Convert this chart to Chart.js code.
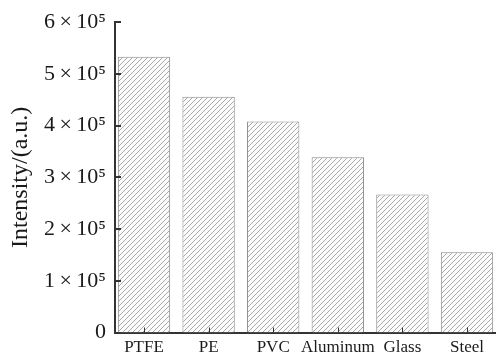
<!DOCTYPE html>
<html>
<head>
<meta charset="utf-8">
<script src="https://cdn.jsdelivr.net/npm/chart.js@4/dist/chart.umd.min.js"></script>
<style>
  html, body { margin: 0; padding: 0; background: #fff; }
  #wrap { width: 496px; height: 357px; }
</style>
</head>
<body>
<div id="wrap"><canvas id="barChart" width="496" height="357"></canvas></div>
<script>
// data
var materials = ['PTFE', 'PE', 'PVC', 'Aluminum', 'Glass', 'Steel'];
var intensity = [533000, 456000, 408000, 339000, 267000, 155000];
var yTickValues = [0, 100000, 200000, 300000, 400000, 500000, 600000];
var yTickLabels = ['0', '1\u2009\u00d7\u200910\u2075', '2\u2009\u00d7\u200910\u2075', '3\u2009\u00d7\u200910\u2075',
                   '4\u2009\u00d7\u200910\u2075', '5\u2009\u00d7\u200910\u2075', '6\u2009\u00d7\u200910\u2075'];

// hatch fill ////
function makeHatch() {
  var s = 5;
  var c = document.createElement('canvas');
  c.width = s; c.height = s;
  var g = c.getContext('2d');
  g.fillStyle = '#fcfcfc';
  g.fillRect(0, 0, s, s);
  g.strokeStyle = '#a8a8a8';
  g.lineWidth = 1;
  g.beginPath();
  g.moveTo(0, s); g.lineTo(s, 0);
  g.moveTo(-1, 1); g.lineTo(1, -1);
  g.moveTo(s - 1, s + 1); g.lineTo(s + 1, s - 1);
  g.stroke();
  return g.createPattern(c, 'repeat');
}

// inward tick marks on both axes
var innerTicks = {
  id: 'innerTicks',
  afterDraw: function(chart) {
    var ctx = chart.ctx;
    var xs = chart.scales.x, ys = chart.scales.y;
    var a = chart.chartArea;
    ctx.save();
    ctx.strokeStyle = '#333';
    ctx.lineWidth = 2;
    ctx.beginPath();
    yTickValues.forEach(function(v) {
      var y = Math.round(ys.getPixelForValue(v));
      ctx.moveTo(a.left, y); ctx.lineTo(a.left + 6, y);
    });
    ctx.stroke();
    ctx.lineWidth = 1;
    ctx.beginPath();
    materials.forEach(function(m, i) {
      var x = Math.round(xs.getPixelForValue(i)) + 0.5;
      ctx.moveTo(x, a.bottom); ctx.lineTo(x, a.bottom - 5);
    });
    ctx.stroke();
    ctx.restore();
  }
};

var points = intensity.map(function(v, i) { return { x: i, y: v }; });

var ctx = document.getElementById('barChart').getContext('2d');
var myChart = new Chart(ctx, {
  type: 'bar',
  data: {
    datasets: [{
      data: points,
      backgroundColor: makeHatch(),
      borderColor: '#8a8a8a',
      borderWidth: 1,
      barPercentage: 0.9,
      categoryPercentage: 0.9
    }]
  },
  options: {
    responsive: false,
    animation: false,
    layout: { padding: { top: 21, right: 0, left: 0, bottom: 0 } },
    plugins: { legend: { display: false }, tooltip: { enabled: false } },
    scales: {
      x: {
        type: 'linear',
        offset: false,
        min: -0.449,
        max: 5.449,
        grid: { display: false, drawTicks: false, offset: false },
        border: { display: true, color: '#333', width: 2 },
        afterBuildTicks: function(scale) {
          scale.ticks = materials.map(function(m, i) { return { value: i }; });
        },
        afterFit: function(scale) { scale.height = 24.5; },
        ticks: {
          autoSkip: false,
          maxRotation: 0,
          padding: 5,
          color: '#1a1a1a',
          font: { family: 'Liberation Serif', size: 17 },
          callback: function(v) { return materials[v]; }
        }
      },
      y: {
        min: 0,
        max: 600000,
        grid: { display: false, drawTicks: false },
        border: { display: true, color: '#333', width: 2 },
        afterBuildTicks: function(scale) {
          scale.ticks = yTickValues.map(function(v) { return { value: v }; });
        },
        afterFit: function(scale) { scale.width = 115; },
        ticks: {
          padding: 9,
          color: '#1a1a1a',
          font: { family: 'Liberation Serif', size: 22 },
          callback: function(v) { return yTickLabels[yTickValues.indexOf(v)]; }
        },
        title: {
          display: true,
          text: 'Intensity/(a.u.)',
          color: '#1a1a1a',
          font: { family: 'Liberation Serif', size: 24 },
          padding: { top: 6, bottom: 0 }
        }
      }
    }
  },
  plugins: [innerTicks]
});
</script>
</body>
</html>
